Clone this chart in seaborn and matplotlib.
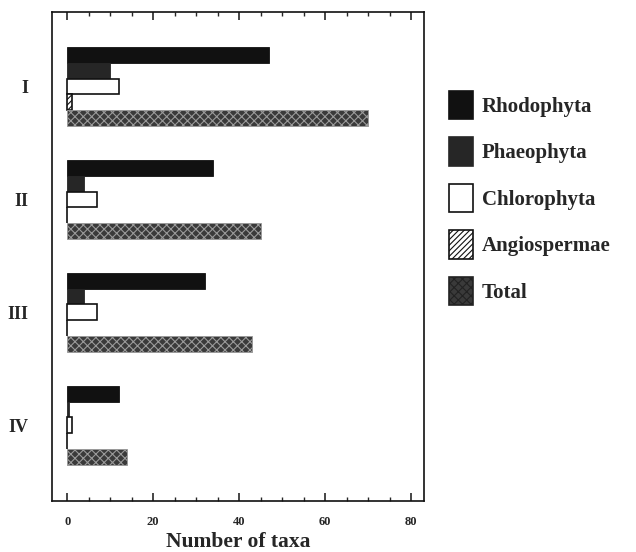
import matplotlib
matplotlib.use("Agg")
import matplotlib.pyplot as plt
import seaborn as sns
import pandas as pd
from matplotlib.patches import Patch
from matplotlib.ticker import MultipleLocator

sites = ["I", "II", "III", "IV"]
taxa = ["Rhodophyta", "Phaeophyta", "Chlorophyta", "Angiospermae", "Total"]
rhodophyta = [47, 34, 32, 12]
phaeophyta = [10, 4, 4, 0.5]
chlorophyta = [12, 7, 7, 1]
angiospermae = [1, 0, 0, 0]
total = [70, 45, 43, 14]

values = {"Rhodophyta": rhodophyta, "Phaeophyta": phaeophyta,
          "Chlorophyta": chlorophyta, "Angiospermae": angiospermae, "Total": total}
rows = []
for t in taxa:
    for s, v in zip(sites, values[t]):
        rows.append({"site": s, "taxon": t, "n": v})
df = pd.DataFrame(rows)

sns.set_style("white")
plt.rcParams["font.family"] = ["Liberation Serif", "DejaVu Serif"]
plt.rcParams["font.weight"] = "bold"
plt.rcParams["hatch.linewidth"] = 0.8

styles = {
    "Rhodophyta": dict(fc="#111111", ec="#111111", hatch=None),
    "Phaeophyta": dict(fc="#262626", ec="#262626", hatch=None),
    "Chlorophyta": dict(fc="white", ec="#111111", hatch=None),
    "Angiospermae": dict(fc="white", ec="#111111", hatch="//////"),
    "Total": dict(fc="#3a3a3a", ec="#9a9a9a", hatch="xxxx"),
}

fig = plt.figure(figsize=(6.36, 5.52), dpi=100)
ax = fig.add_axes([0.082, 0.0924, 0.585, 0.886])

palette = {t: styles[t]["fc"] for t in taxa}
sns.barplot(data=df, y="site", x="n", hue="taxon", order=sites, hue_order=taxa,
            orient="h", palette=palette, width=0.7, gap=0, saturation=1,
            legend=False, ax=ax, errorbar=None)

for cont, t in zip(ax.containers, taxa):
    st = styles[t]
    for p in cont:
        p.set_facecolor(st["fc"])
        p.set_edgecolor(st["ec"])
        p.set_linewidth(1.2 if t in ("Chlorophyta", "Angiospermae") else 0.6)
        if st["hatch"]:
            p.set_hatch(st["hatch"])

ax.set_xlim(-3.5, 83)
ax.set_ylim(3.67, -0.66)
ax.xaxis.set_major_locator(MultipleLocator(20))
ax.xaxis.set_minor_locator(MultipleLocator(5))
ax.tick_params(axis="x", which="major", direction="in", length=6, width=1.2,
               top=True, bottom=True, labelsize=9, pad=11)
ax.tick_params(axis="x", which="minor", direction="in", length=3, width=1,
               top=True, bottom=True)
ax.tick_params(axis="y", length=0, labelsize=13, pad=17)
for lab in ax.get_xticklabels() + ax.get_yticklabels():
    lab.set_fontweight("bold")
for sp in ax.spines.values():
    sp.set_visible(True)
    sp.set_color("#111111")
    sp.set_linewidth(1.2)

ax.set_ylabel("")
ax.set_xlabel("Number of taxa", fontsize=15.5, fontweight="bold", labelpad=3)

handles = [Patch(facecolor=styles[t]["fc"], edgecolor=styles[t]["ec"] if t != "Total" else "#222222",
                 hatch=styles[t]["hatch"], linewidth=1.2, label=t) for t in taxa]
leg = fig.legend(handles=handles, loc="upper left", bbox_to_anchor=(0.676, 0.87),
                 frameon=False, handlelength=1.15, handleheight=1.75,
                 labelspacing=0.85, handletextpad=0.45,
                 prop={"weight": "bold", "size": 15})

fig.savefig("out.png", dpi=100)
